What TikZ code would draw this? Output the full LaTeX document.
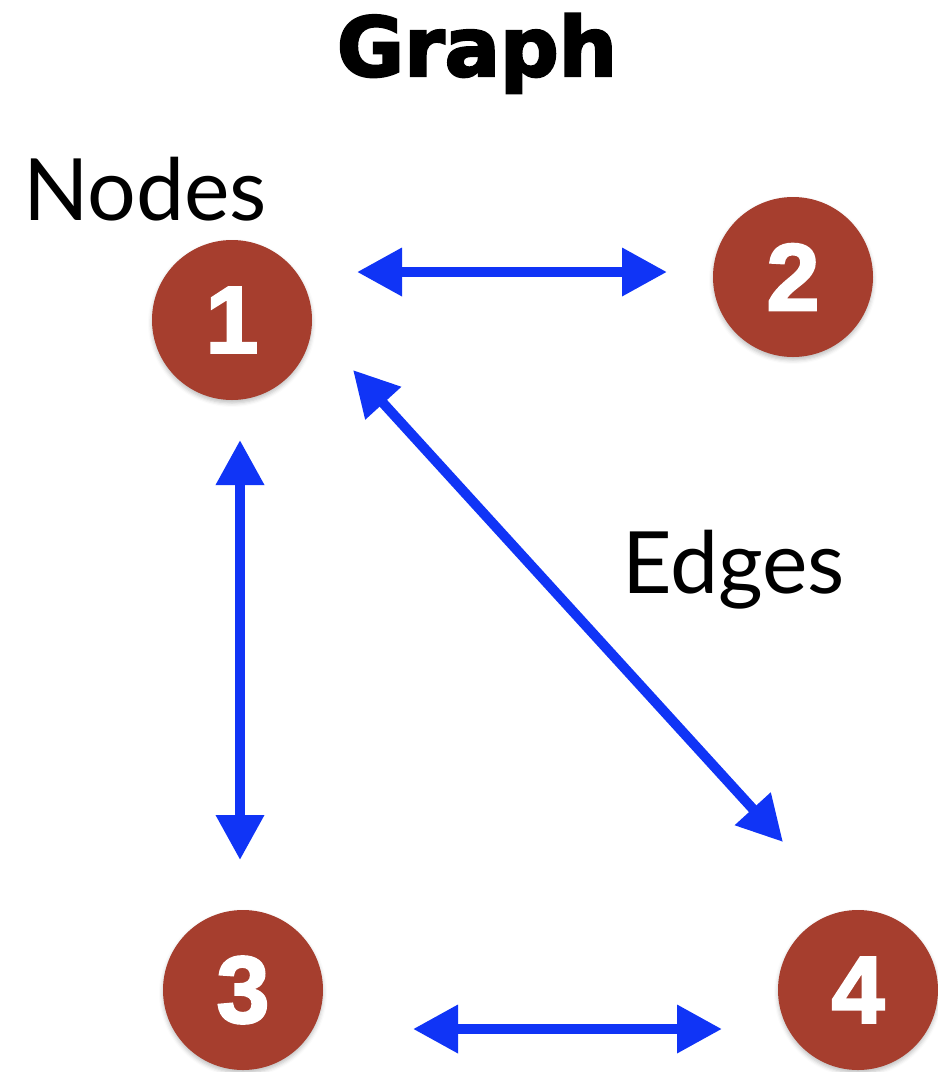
\documentclass[tikz,border=0pt]{standalone}
\usepackage{fontspec}
\setmainfont{Lato}
\newfontfamily\heavyfont{DejaVu Sans Bold}[FakeBold=3]
\newfontfamily\digitfont{Liberation Sans Bold}[FakeBold=2.5]
\usetikzlibrary{arrows.meta,shadows.blur}
\definecolor{nodered}{RGB}{166,62,46}
\definecolor{edgeblue}{RGB}{16,52,246}

\begin{document}
\begin{tikzpicture}[
    x=1pt,
    y=-1pt,
    >={Triangle[length=45pt,width=46pt]},
    vertex/.style={
        circle,
        fill=nodered,
        minimum size=160pt,
        inner sep=0pt,
        text=white,
        font=\digitfont\fontsize{95}{95}\selectfont,
        blur shadow={shadow xshift=0pt, shadow yshift=-3pt,
            shadow opacity=25, shadow blur radius=4pt}
    },
    edge/.style={
        <->,
        draw=edgeblue,
        line width=10pt
    },
    caption/.style={
        anchor=base west,
        inner sep=0pt,
        font=\fontsize{86}{86}\selectfont
    }
]

\useasboundingbox (0,0) rectangle (938,1072);

\node[anchor=base, inner sep=0pt,
      font=\heavyfont\fontsize{82}{82}\selectfont] (title) at (477,76)
{Graph};

\node[caption] (nodeslabel) at (23,220) {Nodes};
\node[caption] (edgeslabel) at (622,593) {Edges};

\node[vertex] (n1) at (232,320) {1};
\node[vertex] (n2) at (793,277) {2};
\node[vertex] (n3) at (243,990) {3};
\node[vertex] (n4) at (858,990) {4};

\draw[edge]
([shift={(125,-48)}]n1.center) --
([shift={(-126,-5)}]n2.center);

\draw[edge]
([shift={(8,120)}]n1.center) --
([shift={(-3,-130)}]n3.center);

\draw[edge]
([shift={(121,50)}]n1.center) --
([shift={(-75,-148)}]n4.center);

\draw[edge]
([shift={(170,39)}]n3.center) --
([shift={(-136,39)}]n4.center);

\end{tikzpicture}
\end{document}
